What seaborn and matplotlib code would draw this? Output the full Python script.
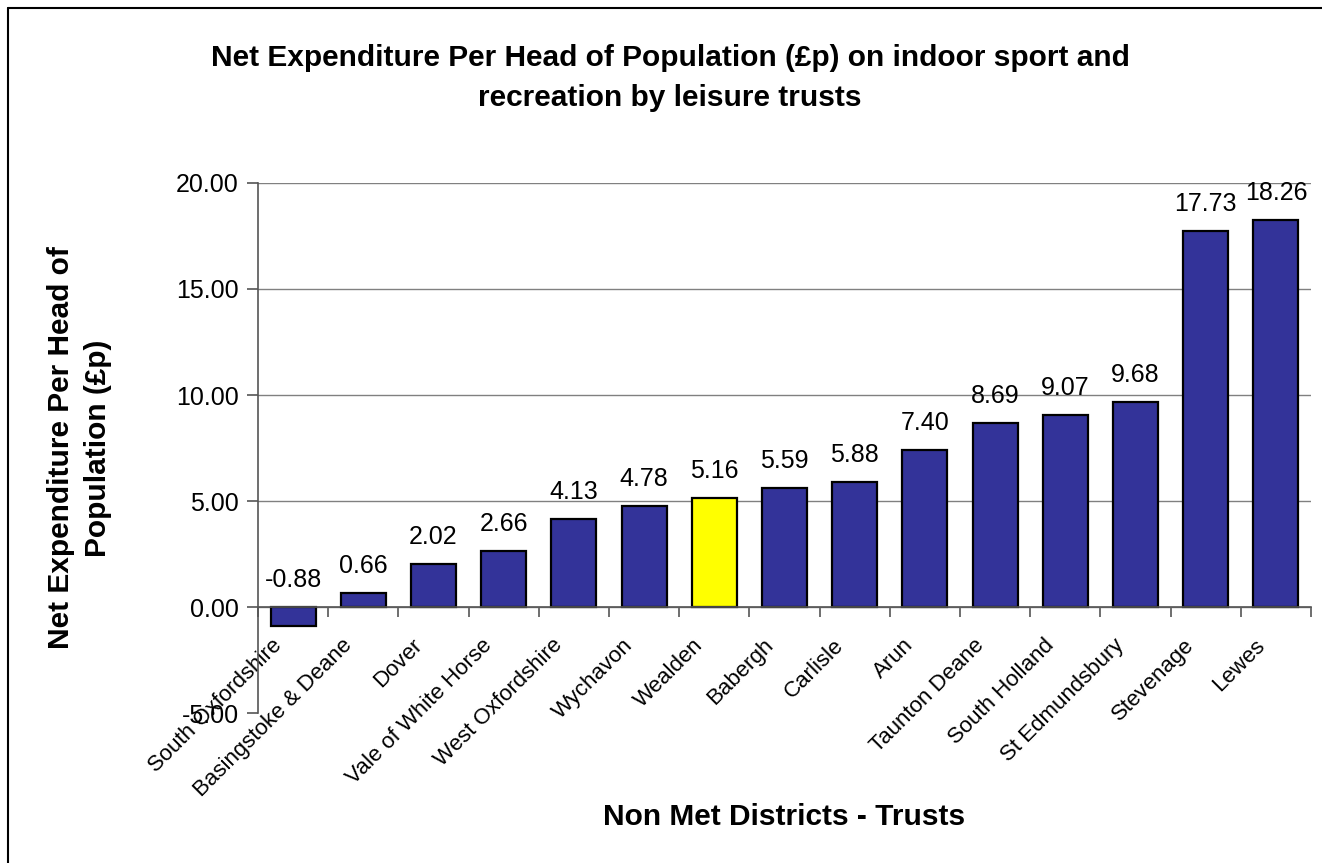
import matplotlib
matplotlib.use("Agg")
import matplotlib.pyplot as plt
import matplotlib.transforms as mtransforms
import seaborn as sns
import numpy as np
from matplotlib.ticker import FixedLocator, FormatStrFormatter
from matplotlib.lines import Line2D

districts = ["South Oxfordshire", "Basingstoke & Deane", "Dover", "Vale of White Horse",
             "West Oxfordshire", "Wychavon", "Wealden", "Babergh", "Carlisle", "Arun",
             "Taunton Deane", "South Holland", "St Edmundsbury", "Stevenage", "Lewes"]
values = [-0.88, 0.66, 2.02, 2.66, 4.13, 4.78, 5.16, 5.59, 5.88, 7.40,
          8.69, 9.07, 9.68, 17.73, 18.26]
highlight = "Wealden"
y_ticks = [-5, 0, 5, 10, 15, 20]

sns.set_theme(style="white")
plt.rcParams["font.family"] = ["Liberation Sans", "DejaVu Sans"]

fig = plt.figure(figsize=(13.22, 8.63), dpi=100)
ax = fig.add_axes([258/1322, 1-713/863, (1311-258)/1322, (713-183)/863])

colors = ["#FFFF00" if d == highlight else "#333399" for d in districts]
sns.barplot(x=districts, y=values, hue=districts, palette=colors, legend=False,
            edgecolor="black", linewidth=1.6, width=0.64, saturation=1, ax=ax)

ax.set_ylim(-5, 20)
ax.set_xlim(-0.5, len(districts) - 0.5)
ax.yaxis.set_major_locator(FixedLocator(y_ticks))
ax.yaxis.set_major_formatter(FormatStrFormatter("%.2f"))
ax.grid(axis="y", color="#808080", linewidth=1)
ax.grid(axis="x", visible=False)
ax.set_axisbelow(True)

for s in ["top", "right"]:
    ax.spines[s].set_visible(False)
ax.spines["left"].set_color("#555555")
ax.spines["bottom"].set_color("#555555")
ax.spines["left"].set_linewidth(1.2)
ax.spines["bottom"].set_linewidth(1.2)
ax.spines["bottom"].set_position(("data", 0))

ax.tick_params(axis="y", which="major", left=True, length=8, width=1.2, color="#555555",
               labelsize=18, pad=6, labelcolor="black")
ax.xaxis.set_minor_locator(FixedLocator(np.arange(-0.5, len(districts), 1.0)))
ax.tick_params(axis="x", which="minor", bottom=True, length=7, width=1.2, color="#555555")
ax.tick_params(axis="x", which="major", bottom=False, length=0, labelsize=16, pad=20,
               labelcolor="black")

yticks = ax.yaxis.get_major_ticks()
yticks[0].gridline.set_visible(False)

shift = mtransforms.ScaledTranslation(-7/100, 0, fig.dpi_scale_trans)
for lab in ax.get_xticklabels():
    lab.set_rotation(45)
    lab.set_ha("right")
    lab.set_va("top")
    lab.set_rotation_mode("default")
    lab.set_transform(lab.get_transform() + shift)

for i, v in enumerate(values):
    ax.annotate(f"{v:.2f}", xy=(i, max(v, 0)), xytext=(0, 20), textcoords="offset pixels",
                ha="center", va="baseline", fontsize=18, color="black")

ax.set_ylabel("Net Expenditure Per Head of\nPopulation (£p)", fontsize=21.5,
              fontweight="bold", color="black", linespacing=1.38)
ax.yaxis.set_label_coords(-0.139, 0.5)
ax.set_xlabel("Non Met Districts - Trusts", fontsize=21.5, fontweight="bold", color="black")
ax.xaxis.set_label_coords(0.5, -0.196)
ax.xaxis.label.set_va("center")

fig.text(670/1322, 1-78/863,
         "Net Expenditure Per Head of Population (£p) on indoor sport and\nrecreation by leisure trusts",
         ha="center", va="center", fontsize=21.5, fontweight="bold", color="black",
         linespacing=1.55)

fig.add_artist(Line2D([8/1322, 8/1322], [0, 1-8/863], transform=fig.transFigure,
                      color="black", linewidth=1.5))
fig.add_artist(Line2D([8/1322, 1], [1-8/863, 1-8/863], transform=fig.transFigure,
                      color="black", linewidth=1.5))

fig.savefig("out.png", dpi=100)
